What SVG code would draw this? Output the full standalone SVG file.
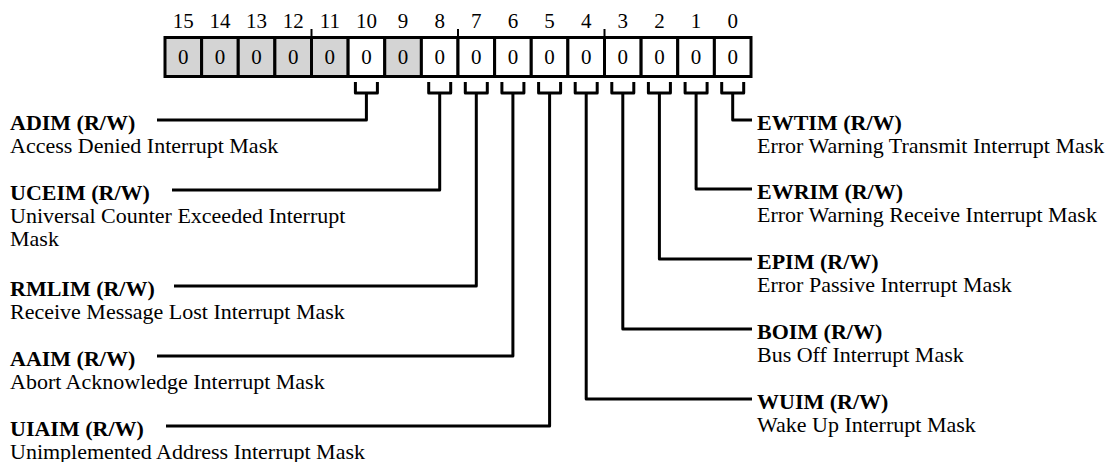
<svg xmlns="http://www.w3.org/2000/svg" width="1113" height="462" viewBox="0 0 1113 462">
<style>
  text { font-family: "Liberation Serif", "Times New Roman", serif; fill: #000; }
  .num { font-size: 21px; text-anchor: middle; }
  .val { font-size: 21px; text-anchor: middle; }
  .name { font-size: 22px; font-weight: bold; }
  .desc { font-size: 22px; }
  .cell { stroke: #000; stroke-width: 3; fill: #fff; }
  .res { fill: #d4d4d4; }
  .tick { stroke: #000; stroke-width: 2; }
  .conn { fill: none; stroke: #000; stroke-width: 3; stroke-linejoin: round; }
</style>
<rect width="1113" height="462" fill="#fff"/>
<g id="register">
  <g id="bitnumbers">
    <text class="num" x="183.3" y="28">15</text>
    <text class="num" x="219.9" y="28">14</text>
    <text class="num" x="256.6" y="28">13</text>
    <text class="num" x="293.2" y="28">12</text>
    <text class="num" x="329.8" y="28">11</text>
    <text class="num" x="366.4" y="28">10</text>
    <text class="num" x="403.1" y="28">9</text>
    <text class="num" x="439.7" y="28">8</text>
    <text class="num" x="476.3" y="28">7</text>
    <text class="num" x="512.9" y="28">6</text>
    <text class="num" x="549.6" y="28">5</text>
    <text class="num" x="586.2" y="28">4</text>
    <text class="num" x="622.8" y="28">3</text>
    <text class="num" x="659.4" y="28">2</text>
    <text class="num" x="696.1" y="28">1</text>
    <text class="num" x="732.7" y="28">0</text>
  </g>
  <line class="tick" x1="311.5" y1="29" x2="311.5" y2="37"/>
  <line class="tick" x1="458" y1="29" x2="458" y2="37"/>
  <line class="tick" x1="604.5" y1="29" x2="604.5" y2="37"/>
  <g id="cells">
    <rect class="cell res" x="165" y="37.5" width="36.625" height="39"/>
    <rect class="cell res" x="201.625" y="37.5" width="36.625" height="39"/>
    <rect class="cell res" x="238.25" y="37.5" width="36.625" height="39"/>
    <rect class="cell res" x="274.875" y="37.5" width="36.625" height="39"/>
    <rect class="cell res" x="311.5" y="37.5" width="36.625" height="39"/>
    <rect class="cell" x="348.125" y="37.5" width="36.625" height="39"/>
    <rect class="cell res" x="384.75" y="37.5" width="36.625" height="39"/>
    <rect class="cell" x="421.375" y="37.5" width="36.625" height="39"/>
    <rect class="cell" x="458" y="37.5" width="36.625" height="39"/>
    <rect class="cell" x="494.625" y="37.5" width="36.625" height="39"/>
    <rect class="cell" x="531.25" y="37.5" width="36.625" height="39"/>
    <rect class="cell" x="567.875" y="37.5" width="36.625" height="39"/>
    <rect class="cell" x="604.5" y="37.5" width="36.625" height="39"/>
    <rect class="cell" x="641.125" y="37.5" width="36.625" height="39"/>
    <rect class="cell" x="677.75" y="37.5" width="36.625" height="39"/>
    <rect class="cell" x="714.375" y="37.5" width="36.625" height="39"/>
  </g>
  <g id="values">
    <text class="val" x="183.3" y="64">0</text>
    <text class="val" x="219.9" y="64">0</text>
    <text class="val" x="256.6" y="64">0</text>
    <text class="val" x="293.2" y="64">0</text>
    <text class="val" x="329.8" y="64">0</text>
    <text class="val" x="366.4" y="64">0</text>
    <text class="val" x="403.1" y="64">0</text>
    <text class="val" x="439.7" y="64">0</text>
    <text class="val" x="476.3" y="64">0</text>
    <text class="val" x="512.9" y="64">0</text>
    <text class="val" x="549.6" y="64">0</text>
    <text class="val" x="586.2" y="64">0</text>
    <text class="val" x="622.8" y="64">0</text>
    <text class="val" x="659.4" y="64">0</text>
    <text class="val" x="696.1" y="64">0</text>
    <text class="val" x="732.7" y="64">0</text>
  </g>
</g>
<g id="connectors">
  <path class="conn" d="M355.4,82 V93 H377.4 V82 M366.4,93 V120 H157"/>
  <path class="conn" d="M428.7,82 V93 H450.7 V82 M439.7,93 V190 H172"/>
  <path class="conn" d="M465.3,82 V93 H487.3 V82 M476.3,93 V286 H174"/>
  <path class="conn" d="M501.9,82 V93 H523.9 V82 M512.9,93 V356 H157"/>
  <path class="conn" d="M538.6,82 V93 H560.6 V82 M549.6,93 V426 H166"/>
  <path class="conn" d="M575.2,82 V93 H597.2 V82 M586.2,93 V399 H752"/>
  <path class="conn" d="M611.8,82 V93 H633.8 V82 M622.8,93 V329 H752"/>
  <path class="conn" d="M648.4,82 V93 H670.4 V82 M659.4,93 V259 H752"/>
  <path class="conn" d="M685.1,82 V93 H707.1 V82 M696.1,93 V189 H752"/>
  <path class="conn" d="M721.7,82 V93 H743.7 V82 M732.7,93 V120 H752"/>
</g>
<g id="adim">
  <text class="name" x="10" y="130">ADIM (R/W)</text>
  <text class="desc" x="10" y="153">Access Denied Interrupt Mask</text>
</g>
<g id="uceim">
  <text class="name" x="10" y="200">UCEIM (R/W)</text>
  <text class="desc" x="10" y="223">Universal Counter Exceeded Interrupt</text>
  <text class="desc" x="10" y="246">Mask</text>
</g>
<g id="rmlim">
  <text class="name" x="10" y="296">RMLIM (R/W)</text>
  <text class="desc" x="10" y="319">Receive Message Lost Interrupt Mask</text>
</g>
<g id="aaim">
  <text class="name" x="10" y="366">AAIM (R/W)</text>
  <text class="desc" x="10" y="389">Abort Acknowledge Interrupt Mask</text>
</g>
<g id="uiaim">
  <text class="name" x="10" y="436">UIAIM (R/W)</text>
  <text class="desc" x="10" y="459">Unimplemented Address Interrupt Mask</text>
</g>
<g id="ewtim">
  <text class="name" x="757" y="130">EWTIM (R/W)</text>
  <text class="desc" x="757" y="153">Error Warning Transmit Interrupt Mask</text>
</g>
<g id="ewrim">
  <text class="name" x="757" y="199">EWRIM (R/W)</text>
  <text class="desc" x="757" y="222">Error Warning Receive Interrupt Mask</text>
</g>
<g id="epim">
  <text class="name" x="757" y="269">EPIM (R/W)</text>
  <text class="desc" x="757" y="292">Error Passive Interrupt Mask</text>
</g>
<g id="boim">
  <text class="name" x="757" y="339">BOIM (R/W)</text>
  <text class="desc" x="757" y="362">Bus Off Interrupt Mask</text>
</g>
<g id="wuim">
  <text class="name" x="757" y="409">WUIM (R/W)</text>
  <text class="desc" x="757" y="432">Wake Up Interrupt Mask</text>
</g>
</svg>
